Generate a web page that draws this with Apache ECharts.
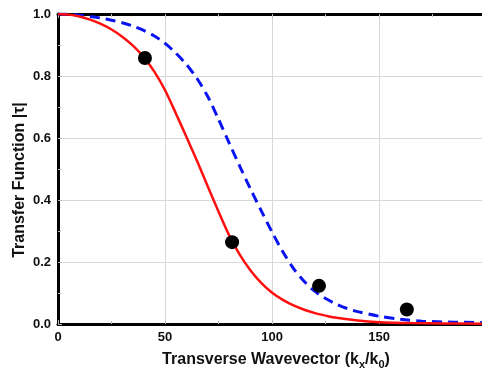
<!DOCTYPE html>
<html>
<head>
<meta charset="utf-8">
<script src="https://cdn.jsdelivr.net/npm/echarts@6/dist/echarts.min.js"></script>
<style>html,body{margin:0;padding:0;background:#fff}#c{width:482px;height:369px}</style>
</head>
<body>
<div id="c"></div>
<script>
// Red solid curve: [k, value]
var redX = [0, 5, 10, 15, 20, 25, 30, 35, 40, 45, 50, 55, 60, 65, 70, 75, 80, 85, 90, 95, 100, 105, 110, 115, 120, 125, 130, 140, 150, 165, 180, 198];
var redY = [1.0, 0.998, 0.992, 0.982, 0.968, 0.95, 0.927, 0.898, 0.861, 0.814, 0.754, 0.68, 0.603, 0.525, 0.443, 0.362, 0.285, 0.222, 0.172, 0.132, 0.101, 0.078, 0.06, 0.046, 0.035, 0.027, 0.02, 0.011, 0.006, 0.003, 0.002, 0.001];
// Blue dashed curve
var blueX = [0, 5, 10, 15, 20, 25, 30, 35, 40, 45, 50, 55, 60, 65, 70, 75, 80, 85, 90, 95, 100, 105, 110, 115, 120, 125, 130, 135, 140, 150, 160, 170, 185, 198];
var blueY = [1.0, 0.999, 0.996, 0.992, 0.987, 0.98, 0.972, 0.961, 0.947, 0.929, 0.905, 0.874, 0.837, 0.791, 0.733, 0.66, 0.583, 0.507, 0.434, 0.364, 0.296, 0.233, 0.179, 0.137, 0.105, 0.082, 0.064, 0.05, 0.04, 0.025, 0.015, 0.009, 0.006, 0.005];
// Measured points
var dotX = [40.6, 81.3, 121.9, 162.9];
var dotY = [0.858, 0.264, 0.123, 0.047];
// Axis ticks
var xTicks = [0, 50, 100, 150];
var yTicks = [0, 0.2, 0.4, 0.6, 0.8, 1.0];

function pairs(xs, ys) { return xs.map(function (x, i) { return [x, ys[i]]; }); }

var chart = echarts.init(document.getElementById('c'), null, { renderer: 'canvas' });
var font = '"Liberation Sans", Arial, sans-serif';
chart.setOption({
  animation: false,
  grid: { left: 58, right: 0, top: 14, bottom: 45, containLabel: false, outerBoundsMode: 'none' },
  xAxis: [{
    type: 'value', min: 0, max: 198, interval: 50,
    name: '{n|Transverse Wavevector (k}{s|x}{n|/k}{s|0}{n|)}',
    nameLocation: 'middle', nameGap: 26,
    nameTextStyle: {
      padding: [0, 0, 0, 12],
      rich: {
        n: { fontFamily: font, fontWeight: 'bold', fontSize: 16, color: '#111' },
        s: { fontFamily: font, fontWeight: 'bold', fontSize: 11, color: '#111', padding: [9, 0, 0, 0] }
      }
    },
    axisLine: { show: true, onZero: false, lineStyle: { color: '#000', width: 3 } },
    axisTick: { show: true, inside: true, length: 4, lineStyle: { color: '#bbb' } },
    minorTick: { show: true, splitNumber: 2, length: 3, lineStyle: { color: '#bbb' } },
    axisLabel: {
      fontFamily: font, fontWeight: 'bold', fontSize: 13, color: '#111', margin: 7,
      formatter: function (v) { return xTicks.indexOf(v) >= 0 ? String(v) : ''; }
    },
    splitLine: { show: true, lineStyle: { color: '#d8d8d8', width: 1 } }
  }, {
    type: 'value', position: 'top', min: 0, max: 198, interval: 50,
    axisLine: { show: true, onZero: false, lineStyle: { color: '#000', width: 3 } },
    axisTick: { show: true, inside: true, length: 4, lineStyle: { color: '#bbb' } },
    minorTick: { show: true, splitNumber: 2, length: 3, lineStyle: { color: '#bbb' } },
    axisLabel: { show: false },
    splitLine: { show: false }
  }],
  yAxis: {
    type: 'value', min: 0, max: 1, interval: 0.2,
    name: 'Transfer Function |τ|',
    nameLocation: 'middle', nameGap: 30, nameMoveOverlap: false,
    nameTextStyle: { fontFamily: font, fontWeight: 'bold', fontSize: 16, color: '#111', padding: [0, 22, 0, 0] },
    axisLine: { show: true, onZero: false, lineStyle: { color: '#000', width: 3 } },
    axisTick: { show: true, inside: true, length: 4, lineStyle: { color: '#bbb' } },
    minorTick: { show: true, splitNumber: 2, length: 3, lineStyle: { color: '#bbb' } },
    axisLabel: {
      fontFamily: font, fontWeight: 'bold', fontSize: 13, color: '#111', margin: 7,
      formatter: function (v) { return v.toFixed(1); }
    },
    splitLine: { show: true, lineStyle: { color: '#d8d8d8', width: 1 } }
  },
  series: [{
    type: 'line', data: pairs(blueX, blueY), smooth: 0.3, showSymbol: false,
    lineStyle: { color: '#0a14f0', width: 3, type: [10, 6] }, z: 2
  }, {
    type: 'line', data: pairs(redX, redY), smooth: 0.3, showSymbol: false,
    lineStyle: { color: '#ff1010', width: 2.5 }, z: 3
  }, {
    type: 'scatter', data: pairs(dotX, dotY), symbolSize: 14,
    itemStyle: { color: '#000', opacity: 1 }, z: 5
  }]
});
</script>
</body>
</html>
